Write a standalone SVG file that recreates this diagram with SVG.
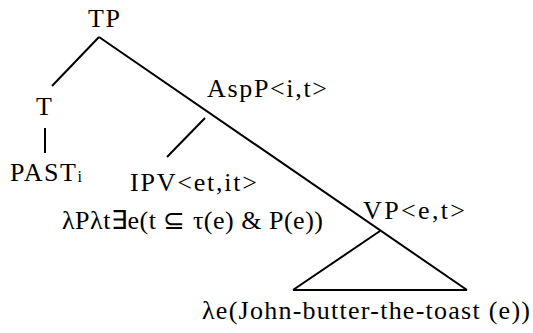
<svg xmlns="http://www.w3.org/2000/svg" width="533" height="333" viewBox="0 0 533 333">
<style>
.lbl{font-family:'Liberation Serif','Times New Roman',serif;font-size:26px;fill:#000}
.sub{font-size:16px}
line{stroke:#000;stroke-width:2;stroke-linecap:butt}
</style>
<rect width="533" height="333" fill="#fff"/>
<g id="connectors">
<line x1="99" y1="37" x2="52" y2="86"/>
<line x1="99" y1="37" x2="467" y2="290"/>
<line x1="45" y1="128" x2="45" y2="153"/>
<line x1="205" y1="118" x2="167" y2="157"/>
<line x1="293" y1="290" x2="380" y2="231"/>
<line x1="293" y1="290" x2="467" y2="290"/>
</g>
<g id="TP"><text class="lbl" x="88" y="27" textLength="32">TP</text></g>
<g id="T"><text class="lbl" x="36" y="115">T</text></g>
<g id="PAST"><text class="lbl" x="10" y="181" textLength="72">PAST<tspan class="sub" dy="1">i</tspan></text></g>
<g id="AspP"><text class="lbl" x="207" y="97" textLength="120">AspP&lt;i,t&gt;</text></g>
<g id="IPV"><text class="lbl" x="130" y="191" textLength="127">IPV&lt;et,it&gt;</text></g>
<g id="IPV-sem"><text class="lbl" x="62" y="229" textLength="261">λPλt∃e(t ⊆ τ(e) &amp; P(e))</text></g>
<g id="VP"><text class="lbl" x="363" y="219" textLength="102">VP&lt;e,t&gt;</text></g>
<g id="VP-sem"><text class="lbl" x="202" y="319" textLength="328">λe(John-butter-the-toast (e))</text></g>
</svg>
